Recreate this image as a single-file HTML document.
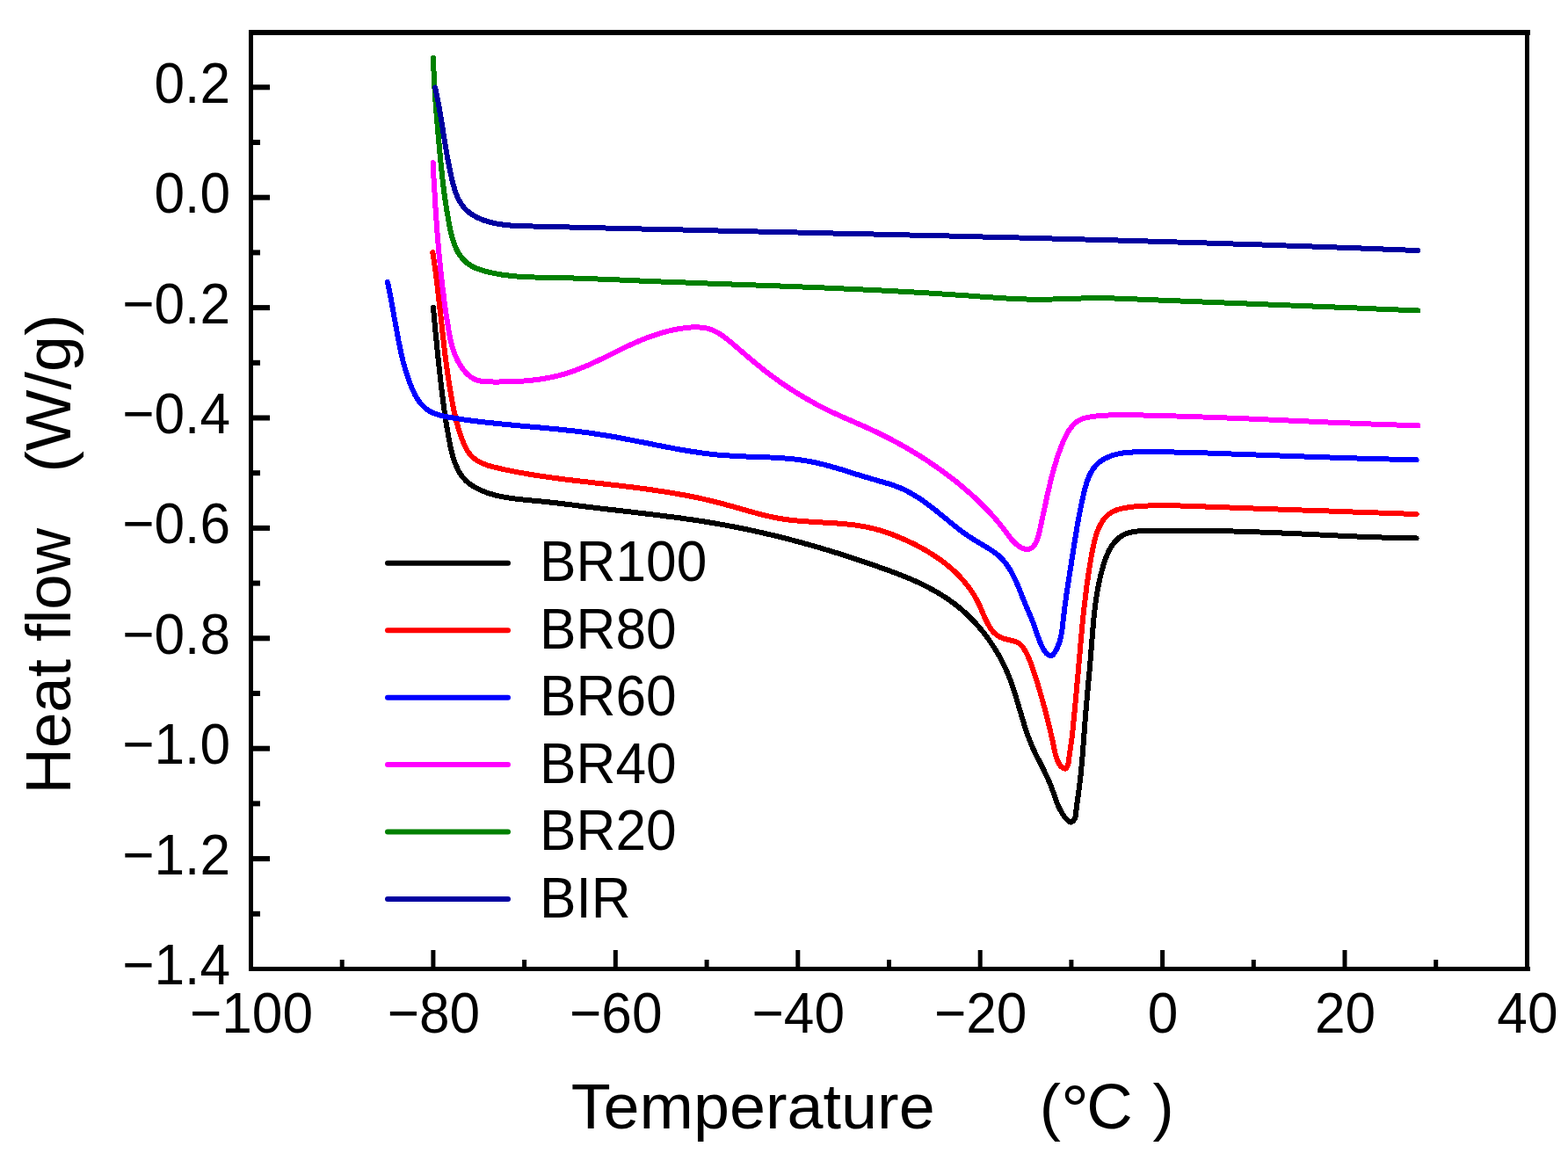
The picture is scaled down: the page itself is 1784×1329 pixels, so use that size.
<!DOCTYPE html>
<html><head><meta charset="utf-8"><title>Heat flow vs Temperature</title>
<style>
html,body{margin:0;padding:0;background:#fff;overflow:hidden;}
svg{display:block;}
text{font-family:"Liberation Sans",Arial,sans-serif;fill:#000;}
</style></head>
<body>
<svg width="1784" height="1329" viewBox="0 0 1784 1329">
<rect width="1784" height="1329" fill="#fff"/>
<g id="curves">
<path d="M493.0,350.0 C493.1,351.2 493.4,354.8 493.6,357.3 C493.8,359.8 494.1,362.3 494.3,364.8 C494.5,367.3 494.8,369.7 495.0,372.2 C495.2,374.7 495.4,377.3 495.7,379.8 C495.9,382.3 496.2,384.8 496.5,387.3 C496.8,389.8 496.9,392.4 497.2,394.9 C497.4,397.4 497.7,400.0 498.0,402.5 C498.3,405.0 498.5,407.6 498.8,410.1 C499.1,412.6 499.3,415.1 499.6,417.6 C499.9,420.1 500.1,422.6 500.4,425.1 C500.7,427.6 500.9,430.1 501.2,432.6 C501.5,435.1 501.8,437.4 502.1,439.9 C502.4,442.3 502.7,444.9 503.0,447.3 C503.3,449.8 503.6,452.2 503.9,454.6 C504.2,457.0 504.5,459.4 504.8,461.9 C505.1,464.3 505.5,466.9 505.9,469.3 C506.2,471.8 506.5,474.1 506.9,476.6 C507.3,479.1 507.7,481.6 508.1,484.1 C508.5,486.6 509.0,489.0 509.4,491.5 C509.8,494.0 510.2,496.6 510.7,499.1 C511.2,501.6 511.7,504.1 512.2,506.7 C512.7,509.2 513.3,511.9 513.9,514.4 C514.5,516.9 515.2,519.4 516.0,521.8 C516.8,524.2 517.6,526.6 518.6,528.9 C519.6,531.2 520.5,533.6 521.7,535.7 C522.9,537.9 524.2,539.9 525.6,541.8 C527.0,543.7 528.6,545.5 530.4,547.2 C532.1,548.9 534.1,550.4 536.1,551.8 C538.1,553.2 540.3,554.4 542.5,555.6 C544.7,556.8 547.1,557.8 549.4,558.8 C551.7,559.8 554.1,560.6 556.5,561.4 C558.9,562.2 561.3,562.9 563.7,563.5 C566.1,564.1 568.5,564.6 571.0,565.1 C573.5,565.6 575.9,566.0 578.4,566.4 C580.9,566.8 583.4,567.2 585.9,567.5 C588.4,567.8 590.9,568.0 593.4,568.3 C595.9,568.6 598.5,568.9 601.0,569.1 C603.5,569.4 606.0,569.6 608.5,569.8 C611.0,570.0 613.5,570.2 616.0,570.5 C618.5,570.8 621.0,571.0 623.5,571.3 C626.0,571.6 628.5,571.8 631.0,572.1 C633.5,572.4 635.9,572.7 638.4,573.0 C640.9,573.3 643.4,573.6 645.9,573.9 C648.4,574.2 650.8,574.5 653.3,574.8 C655.8,575.1 658.2,575.5 660.7,575.8 C663.2,576.1 665.7,576.4 668.2,576.7 C670.7,577.0 673.1,577.3 675.6,577.6 C678.1,577.9 680.6,578.2 683.1,578.5 C685.6,578.8 688.0,579.1 690.5,579.4 C693.0,579.7 695.5,579.9 698.0,580.2 C700.5,580.5 703.0,580.8 705.5,581.1 C708.0,581.4 710.5,581.7 713.0,582.0 C715.5,582.3 717.9,582.5 720.4,582.8 C722.9,583.1 725.4,583.4 727.9,583.7 C730.4,584.0 732.9,584.3 735.4,584.6 C737.9,584.9 740.4,585.2 742.9,585.5 C745.4,585.8 747.9,586.1 750.4,586.4 C752.9,586.7 755.3,587.1 757.8,587.4 C760.3,587.7 762.8,588.0 765.3,588.3 C767.8,588.6 770.3,588.9 772.8,589.3 C775.3,589.6 777.7,590.0 780.2,590.4 C782.7,590.8 785.2,591.0 787.7,591.4 C790.2,591.8 792.6,592.1 795.1,592.5 C797.6,592.9 800.1,593.3 802.6,593.7 C805.1,594.1 807.5,594.5 810.0,594.9 C812.5,595.3 814.9,595.8 817.4,596.2 C819.9,596.6 822.3,597.0 824.8,597.5 C827.3,598.0 829.8,598.4 832.2,598.9 C834.7,599.4 837.0,599.8 839.5,600.3 C842.0,600.8 844.4,601.3 846.9,601.8 C849.4,602.3 851.8,602.8 854.2,603.3 C856.6,603.8 859.0,604.3 861.5,604.9 C864.0,605.5 866.4,606.0 868.9,606.6 C871.4,607.2 873.8,607.7 876.2,608.3 C878.6,608.9 881.0,609.4 883.4,610.0 C885.8,610.6 888.3,611.2 890.7,611.8 C893.1,612.4 895.6,613.1 898.0,613.7 C900.4,614.3 902.8,615.0 905.2,615.6 C907.6,616.2 910.1,616.9 912.5,617.6 C914.9,618.3 917.3,618.9 919.7,619.6 C922.1,620.3 924.5,620.9 926.9,621.6 C929.3,622.3 931.7,623.0 934.1,623.7 C936.5,624.4 938.9,625.2 941.3,625.9 C943.7,626.6 946.1,627.4 948.5,628.1 C950.9,628.8 953.3,629.5 955.7,630.3 C958.1,631.0 960.5,631.8 962.9,632.6 C965.3,633.4 967.6,634.1 970.0,634.9 C972.4,635.7 974.8,636.5 977.2,637.3 C979.6,638.1 981.9,638.9 984.3,639.7 C986.7,640.5 989.1,641.4 991.5,642.2 C993.9,643.0 996.2,643.9 998.6,644.7 C1001.0,645.5 1003.4,646.4 1005.8,647.2 C1008.2,648.1 1010.5,648.9 1012.9,649.8 C1015.2,650.7 1017.5,651.5 1019.9,652.4 C1022.2,653.3 1024.7,654.3 1027.0,655.2 C1029.3,656.1 1031.7,657.0 1034.0,658.0 C1036.3,659.0 1038.6,660.0 1040.9,661.0 C1043.2,662.0 1045.5,663.1 1047.7,664.2 C1050.0,665.3 1052.2,666.4 1054.4,667.5 C1056.6,668.6 1058.8,669.8 1061.0,671.0 C1063.2,672.2 1065.4,673.4 1067.5,674.7 C1069.6,676.0 1071.7,677.3 1073.8,678.6 C1075.9,679.9 1078.0,681.3 1080.0,682.7 C1082.0,684.1 1084.0,685.6 1086.0,687.1 C1088.0,688.6 1089.9,690.2 1091.8,691.8 C1093.7,693.4 1095.7,695.0 1097.5,696.7 C1099.3,698.4 1101.1,700.1 1102.9,701.9 C1104.7,703.6 1106.5,705.4 1108.2,707.2 C1109.9,709.0 1111.7,710.9 1113.3,712.8 C1114.9,714.7 1116.5,716.6 1118.1,718.6 C1119.7,720.6 1121.2,722.6 1122.7,724.6 C1124.2,726.6 1125.7,728.7 1127.1,730.8 C1128.5,732.9 1129.9,735.0 1131.3,737.1 C1132.7,739.2 1133.9,741.4 1135.2,743.6 C1136.5,745.8 1137.7,748.0 1138.9,750.2 C1140.1,752.4 1141.2,754.6 1142.3,756.9 C1143.4,759.2 1144.4,761.5 1145.4,763.8 C1146.4,766.1 1147.4,768.4 1148.3,770.7 C1149.2,773.0 1150.1,775.4 1150.9,777.7 C1151.8,780.1 1152.6,782.4 1153.4,784.8 C1154.2,787.2 1154.9,789.6 1155.6,792.0 C1156.3,794.4 1157.1,796.8 1157.8,799.2 C1158.5,801.6 1159.2,804.0 1159.9,806.4 C1160.6,808.8 1161.3,811.2 1162.0,813.6 C1162.7,816.0 1163.5,818.4 1164.2,820.8 C1164.9,823.2 1165.6,825.5 1166.4,827.9 C1167.2,830.3 1168.0,832.6 1168.8,835.0 C1169.6,837.4 1170.5,839.8 1171.4,842.1 C1172.3,844.4 1173.2,846.7 1174.2,849.0 C1175.2,851.3 1176.2,853.5 1177.3,855.8 C1178.4,858.1 1179.6,860.4 1180.7,862.6 C1181.8,864.9 1183.0,867.0 1184.1,869.3 C1185.2,871.5 1186.4,873.8 1187.5,876.1 C1188.6,878.4 1189.7,880.6 1190.8,882.9 C1191.9,885.2 1192.9,887.5 1193.9,889.8 C1194.9,892.1 1195.8,894.4 1196.7,896.8 C1197.6,899.2 1198.4,901.6 1199.2,904.0 C1200.0,906.4 1200.8,908.8 1201.7,911.1 C1202.6,913.5 1203.5,915.8 1204.6,918.1 C1205.7,920.4 1206.8,922.6 1208.1,924.8 C1209.4,927.0 1210.8,929.3 1212.5,931.1 C1214.2,932.9 1216.3,935.6 1218.1,935.6 C1219.8,935.6 1222.0,933.1 1223.0,931.0 C1224.0,928.9 1223.9,925.6 1224.3,923.0 C1224.7,920.4 1225.0,917.8 1225.3,915.3 C1225.6,912.8 1226.0,910.3 1226.3,907.9 C1226.6,905.5 1227.0,903.2 1227.3,900.8 C1227.6,898.4 1227.9,896.0 1228.2,893.6 C1228.5,891.2 1228.8,888.7 1229.1,886.2 C1229.4,883.7 1229.7,881.3 1229.9,878.8 C1230.2,876.3 1230.4,873.7 1230.6,871.2 C1230.8,868.7 1231.1,866.1 1231.3,863.6 C1231.5,861.1 1231.7,858.5 1231.9,856.0 C1232.1,853.5 1232.3,850.9 1232.5,848.4 C1232.7,845.9 1232.8,843.4 1233.0,840.9 C1233.2,838.4 1233.4,836.0 1233.6,833.5 C1233.8,831.0 1233.9,828.5 1234.1,826.0 C1234.3,823.5 1234.5,821.1 1234.7,818.6 C1234.9,816.1 1235.1,813.7 1235.3,811.2 C1235.5,808.7 1235.7,806.2 1235.9,803.7 C1236.1,801.2 1236.4,798.7 1236.6,796.2 C1236.8,793.7 1237.0,791.2 1237.2,788.7 C1237.4,786.2 1237.7,783.6 1237.9,781.1 C1238.1,778.6 1238.4,776.1 1238.6,773.6 C1238.8,771.1 1239.1,768.6 1239.3,766.1 C1239.5,763.6 1239.8,761.1 1240.0,758.6 C1240.2,756.1 1240.4,753.5 1240.6,751.0 C1240.8,748.5 1241.0,746.0 1241.2,743.5 C1241.4,741.0 1241.6,738.6 1241.8,736.1 C1242.0,733.6 1242.2,731.1 1242.4,728.6 C1242.6,726.1 1242.7,723.7 1242.9,721.2 C1243.1,718.7 1243.4,716.2 1243.6,713.7 C1243.8,711.2 1244.0,708.8 1244.2,706.3 C1244.4,703.8 1244.7,701.4 1245.0,698.9 C1245.3,696.4 1245.5,693.9 1245.8,691.4 C1246.1,688.9 1246.4,686.5 1246.8,684.0 C1247.2,681.5 1247.5,679.1 1247.9,676.6 C1248.3,674.1 1248.7,671.6 1249.2,669.1 C1249.7,666.6 1250.2,664.2 1250.7,661.7 C1251.2,659.2 1251.8,656.7 1252.4,654.2 C1253.0,651.7 1253.7,649.2 1254.4,646.7 C1255.1,644.2 1255.8,641.7 1256.6,639.3 C1257.4,636.9 1258.3,634.4 1259.3,632.1 C1260.3,629.8 1261.2,627.5 1262.4,625.4 C1263.6,623.3 1264.8,621.2 1266.2,619.3 C1267.6,617.4 1269.2,615.7 1270.8,614.1 C1272.4,612.5 1274.2,611.1 1276.1,609.9 C1278.0,608.7 1280.2,607.7 1282.4,606.9 C1284.6,606.1 1287.0,605.5 1289.5,605.1 C1292.0,604.7 1294.6,604.4 1297.2,604.2 C1299.8,604.0 1302.6,603.8 1305.3,603.8 C1308.0,603.8 1310.8,603.9 1313.5,603.9 C1316.2,603.9 1318.9,604.0 1321.5,604.0 C1324.1,604.0 1326.7,604.0 1329.3,604.0 C1331.9,604.0 1334.4,604.0 1336.9,604.0 C1339.4,604.0 1341.8,604.0 1344.3,604.0 C1346.8,604.0 1349.2,603.9 1351.7,603.9 C1354.2,603.9 1356.6,603.9 1359.0,603.9 C1361.4,603.9 1363.8,603.9 1366.3,603.9 C1368.8,603.9 1371.2,604.0 1373.7,604.0 C1376.2,604.0 1378.5,604.0 1381.0,604.0 C1383.5,604.0 1386.0,604.2 1388.5,604.2 C1391.0,604.2 1393.4,604.2 1395.9,604.3 C1398.4,604.3 1400.8,604.4 1403.3,604.5 C1405.8,604.6 1408.3,604.6 1410.8,604.7 C1413.3,604.8 1415.8,604.8 1418.3,604.9 C1420.8,605.0 1423.3,605.1 1425.8,605.2 C1428.3,605.3 1430.8,605.4 1433.3,605.5 C1435.8,605.6 1438.3,605.7 1440.8,605.8 C1443.3,605.9 1445.9,606.0 1448.4,606.1 C1450.9,606.2 1453.4,606.3 1455.9,606.4 C1458.4,606.5 1461.0,606.6 1463.5,606.7 C1466.0,606.8 1468.5,607.0 1471.0,607.1 C1473.5,607.2 1476.1,607.3 1478.6,607.4 C1481.1,607.5 1483.7,607.7 1486.2,607.8 C1488.7,607.9 1491.2,608.1 1493.7,608.2 C1496.2,608.3 1498.8,608.4 1501.3,608.5 C1503.8,608.6 1506.4,608.8 1508.9,608.9 C1511.4,609.0 1514.0,609.2 1516.5,609.3 C1519.0,609.4 1521.5,609.5 1524.0,609.6 C1526.5,609.7 1529.1,609.8 1531.6,609.9 C1534.1,610.0 1536.7,610.2 1539.2,610.3 C1541.7,610.4 1544.2,610.5 1546.7,610.6 C1549.2,610.7 1551.8,610.8 1554.3,610.9 C1556.8,611.0 1559.3,611.1 1561.8,611.2 C1564.3,611.3 1566.8,611.3 1569.3,611.4 C1571.8,611.5 1574.3,611.6 1576.8,611.7 C1579.3,611.8 1581.8,611.8 1584.3,611.9 C1586.8,612.0 1589.3,612.0 1591.8,612.1 C1594.3,612.2 1596.7,612.2 1599.2,612.2 C1601.7,612.2 1604.5,612.3 1606.6,612.3 C1608.7,612.3 1610.8,612.4 1611.6,612.4" fill="none" stroke="#000000" stroke-width="6" stroke-linejoin="round" stroke-linecap="round" shape-rendering="crispEdges"/>
<path d="M492.3,287.0 C492.5,288.2 493.0,291.9 493.4,294.4 C493.8,296.8 494.1,299.2 494.5,301.7 C494.9,304.2 495.2,306.7 495.5,309.2 C495.8,311.7 496.2,314.1 496.5,316.6 C496.8,319.1 497.1,321.6 497.4,324.1 C497.7,326.6 498.0,329.0 498.3,331.5 C498.6,334.0 498.8,336.5 499.1,339.0 C499.4,341.5 499.7,344.1 500.0,346.6 C500.3,349.1 500.5,351.6 500.8,354.1 C501.1,356.6 501.4,359.1 501.7,361.6 C502.0,364.1 502.2,366.6 502.5,369.1 C502.8,371.6 503.0,374.2 503.3,376.7 C503.6,379.2 503.9,381.7 504.2,384.2 C504.5,386.7 504.7,389.2 505.0,391.7 C505.3,394.2 505.6,396.7 505.9,399.2 C506.2,401.7 506.5,404.1 506.8,406.6 C507.1,409.1 507.5,411.6 507.8,414.1 C508.1,416.6 508.5,419.0 508.8,421.5 C509.1,424.0 509.5,426.4 509.9,428.9 C510.3,431.4 510.6,433.9 511.0,436.3 C511.4,438.8 511.8,441.2 512.2,443.6 C512.6,446.0 513.0,448.5 513.4,450.9 C513.8,453.3 514.2,455.8 514.7,458.2 C515.2,460.6 515.6,463.0 516.1,465.4 C516.6,467.8 517.2,470.2 517.7,472.6 C518.2,475.0 518.8,477.4 519.4,479.8 C520.0,482.2 520.7,484.6 521.4,487.0 C522.1,489.4 522.9,491.9 523.8,494.4 C524.6,496.9 525.5,499.4 526.5,501.9 C527.5,504.4 528.6,507.0 529.8,509.4 C531.0,511.8 532.4,514.0 533.9,516.0 C535.4,518.0 537.2,519.8 539.0,521.3 C540.8,522.8 542.8,524.1 544.9,525.3 C547.0,526.5 549.2,527.4 551.5,528.3 C553.8,529.2 556.1,529.9 558.5,530.6 C560.9,531.3 563.4,531.8 565.8,532.4 C568.2,533.0 570.6,533.6 573.1,534.1 C575.6,534.6 578.0,535.1 580.5,535.6 C583.0,536.1 585.4,536.6 587.9,537.1 C590.4,537.6 592.8,538.0 595.3,538.4 C597.8,538.8 600.2,539.3 602.7,539.7 C605.2,540.1 607.6,540.5 610.1,540.9 C612.6,541.3 615.0,541.6 617.5,542.0 C620.0,542.4 622.5,542.8 625.0,543.1 C627.5,543.5 629.9,543.8 632.4,544.1 C634.9,544.4 637.4,544.8 639.9,545.1 C642.4,545.4 644.8,545.7 647.3,546.0 C649.8,546.3 652.3,546.6 654.8,546.9 C657.3,547.2 659.7,547.5 662.2,547.8 C664.7,548.1 667.2,548.3 669.7,548.6 C672.2,548.9 674.7,549.2 677.2,549.5 C679.7,549.8 682.1,550.0 684.6,550.3 C687.1,550.6 689.6,550.9 692.1,551.2 C694.6,551.5 697.1,551.7 699.6,552.0 C702.1,552.3 704.6,552.6 707.1,552.9 C709.6,553.2 712.0,553.5 714.5,553.8 C717.0,554.1 719.5,554.4 722.0,554.7 C724.5,555.0 727.0,555.4 729.5,555.7 C732.0,556.0 734.4,556.4 736.9,556.7 C739.4,557.1 741.9,557.4 744.4,557.8 C746.9,558.2 749.3,558.5 751.8,558.9 C754.3,559.3 756.7,559.6 759.2,560.0 C761.7,560.4 764.2,560.9 766.7,561.3 C769.2,561.7 771.6,562.2 774.1,562.6 C776.6,563.0 779.0,563.4 781.5,563.9 C784.0,564.4 786.3,564.9 788.8,565.4 C791.2,565.9 793.8,566.4 796.2,566.9 C798.7,567.4 801.0,568.0 803.5,568.6 C806.0,569.2 808.5,569.7 810.9,570.3 C813.3,570.9 815.7,571.5 818.1,572.1 C820.5,572.7 823.0,573.4 825.4,574.1 C827.8,574.8 830.3,575.4 832.7,576.1 C835.1,576.8 837.5,577.4 839.9,578.1 C842.3,578.8 844.7,579.5 847.1,580.2 C849.5,580.9 852.0,581.5 854.4,582.2 C856.8,582.9 859.2,583.6 861.6,584.2 C864.0,584.9 866.5,585.5 868.9,586.1 C871.3,586.7 873.8,587.3 876.2,587.8 C878.6,588.3 881.0,588.8 883.5,589.3 C886.0,589.8 888.4,590.2 890.9,590.6 C893.4,591.0 895.9,591.3 898.4,591.6 C900.9,591.9 903.3,592.1 905.8,592.4 C908.3,592.6 910.9,592.9 913.4,593.1 C915.9,593.3 918.4,593.4 920.9,593.6 C923.4,593.8 926.0,594.0 928.5,594.1 C931.0,594.2 933.5,594.4 936.0,594.5 C938.5,594.6 941.1,594.8 943.6,594.9 C946.1,595.0 948.6,595.2 951.1,595.4 C953.6,595.6 956.2,595.8 958.7,596.0 C961.2,596.2 963.6,596.4 966.1,596.7 C968.6,597.0 971.1,597.2 973.6,597.6 C976.1,598.0 978.5,598.4 981.0,598.8 C983.5,599.2 985.9,599.7 988.3,600.2 C990.7,600.7 993.1,601.3 995.5,601.9 C997.9,602.5 1000.3,603.2 1002.7,603.9 C1005.1,604.6 1007.4,605.4 1009.8,606.2 C1012.1,607.0 1014.5,607.9 1016.8,608.8 C1019.1,609.7 1021.4,610.6 1023.7,611.6 C1026.0,612.6 1028.3,613.6 1030.6,614.6 C1032.9,615.6 1035.2,616.7 1037.4,617.8 C1039.7,618.9 1041.9,620.0 1044.1,621.2 C1046.3,622.4 1048.6,623.5 1050.8,624.8 C1053.0,626.0 1055.2,627.4 1057.3,628.7 C1059.4,630.0 1061.5,631.3 1063.6,632.7 C1065.7,634.1 1067.8,635.5 1069.8,636.9 C1071.8,638.3 1073.8,639.8 1075.8,641.4 C1077.8,643.0 1079.7,644.6 1081.6,646.2 C1083.5,647.8 1085.3,649.5 1087.1,651.2 C1088.9,652.9 1090.6,654.7 1092.3,656.5 C1094.0,658.3 1095.7,660.2 1097.3,662.1 C1098.9,664.0 1100.4,665.9 1101.9,667.9 C1103.4,669.9 1104.9,672.0 1106.3,674.1 C1107.7,676.2 1109.0,678.4 1110.2,680.6 C1111.5,682.8 1112.7,685.1 1113.8,687.4 C1114.9,689.7 1115.9,692.2 1116.9,694.6 C1117.9,697.0 1118.9,699.4 1120.0,701.8 C1121.1,704.1 1122.1,706.5 1123.3,708.7 C1124.5,710.9 1125.6,713.0 1127.0,715.0 C1128.4,717.0 1129.8,718.8 1131.5,720.4 C1133.2,722.0 1135.0,723.4 1137.1,724.5 C1139.2,725.6 1141.6,726.5 1144.0,727.2 C1146.4,728.0 1149.2,728.3 1151.7,729.0 C1154.2,729.7 1156.7,730.4 1158.7,731.6 C1160.7,732.8 1162.2,734.6 1163.7,736.4 C1165.2,738.2 1166.3,740.5 1167.5,742.6 C1168.7,744.8 1169.7,747.0 1170.7,749.3 C1171.7,751.6 1172.6,754.1 1173.5,756.5 C1174.4,758.9 1175.2,761.3 1176.0,763.7 C1176.8,766.1 1177.5,768.5 1178.3,770.9 C1179.1,773.3 1179.9,775.7 1180.6,778.1 C1181.3,780.5 1182.0,782.9 1182.7,785.3 C1183.4,787.7 1184.1,790.0 1184.8,792.4 C1185.5,794.8 1186.1,797.2 1186.8,799.6 C1187.5,802.0 1188.1,804.4 1188.8,806.8 C1189.5,809.2 1190.1,811.7 1190.7,814.1 C1191.3,816.5 1191.9,819.0 1192.5,821.4 C1193.1,823.8 1193.7,826.2 1194.3,828.7 C1194.9,831.2 1195.4,833.7 1196.0,836.1 C1196.6,838.5 1197.2,841.0 1197.7,843.4 C1198.2,845.8 1198.7,848.3 1199.2,850.8 C1199.7,853.2 1200.1,855.7 1200.8,858.1 C1201.5,860.5 1202.2,862.9 1203.2,865.2 C1204.2,867.5 1205.3,870.6 1206.9,872.1 C1208.5,873.6 1211.1,875.2 1212.6,874.4 C1214.1,873.6 1215.1,869.9 1215.8,867.5 C1216.5,865.1 1216.3,862.3 1216.6,859.8 C1216.9,857.3 1217.4,854.8 1217.8,852.3 C1218.2,849.8 1218.5,847.3 1218.8,844.9 C1219.1,842.5 1219.5,840.0 1219.8,837.6 C1220.1,835.2 1220.3,832.7 1220.6,830.2 C1220.8,827.8 1221.1,825.4 1221.3,822.9 C1221.5,820.4 1221.8,818.0 1222.0,815.5 C1222.2,813.0 1222.5,810.5 1222.8,808.0 C1223.0,805.5 1223.3,803.0 1223.5,800.5 C1223.7,798.0 1224.0,795.4 1224.2,792.9 C1224.4,790.4 1224.6,787.8 1224.8,785.3 C1225.0,782.8 1225.3,780.2 1225.5,777.7 C1225.7,775.2 1226.0,772.6 1226.2,770.1 C1226.4,767.6 1226.7,765.0 1226.9,762.5 C1227.1,760.0 1227.3,757.4 1227.5,754.9 C1227.7,752.4 1228.0,749.9 1228.2,747.4 C1228.4,744.9 1228.7,742.4 1228.9,739.9 C1229.1,737.4 1229.3,735.0 1229.5,732.5 C1229.7,730.0 1230.0,727.6 1230.2,725.1 C1230.4,722.6 1230.6,720.2 1230.8,717.8 C1231.0,715.3 1231.3,712.8 1231.5,710.4 C1231.7,708.0 1232.0,705.5 1232.2,703.1 C1232.5,700.7 1232.7,698.2 1233.0,695.8 C1233.3,693.4 1233.5,691.0 1233.8,688.5 C1234.1,686.0 1234.4,683.6 1234.7,681.1 C1235.0,678.6 1235.3,676.2 1235.6,673.7 C1235.9,671.2 1236.2,668.8 1236.5,666.3 C1236.8,663.8 1237.2,661.3 1237.6,658.8 C1238.0,656.3 1238.3,653.8 1238.7,651.3 C1239.1,648.8 1239.5,646.2 1239.9,643.7 C1240.3,641.2 1240.8,638.6 1241.2,636.0 C1241.7,633.4 1242.1,630.8 1242.6,628.2 C1243.1,625.6 1243.6,623.0 1244.2,620.4 C1244.8,617.8 1245.3,615.2 1246.0,612.7 C1246.7,610.2 1247.4,607.8 1248.3,605.4 C1249.2,603.0 1250.1,600.8 1251.2,598.6 C1252.3,596.5 1253.4,594.4 1254.7,592.5 C1256.0,590.6 1257.5,588.8 1259.1,587.3 C1260.7,585.8 1262.5,584.4 1264.4,583.2 C1266.4,582.0 1268.5,581.0 1270.8,580.2 C1273.0,579.4 1275.5,578.8 1277.9,578.3 C1280.4,577.8 1282.9,577.4 1285.5,577.0 C1288.1,576.6 1290.8,576.4 1293.4,576.2 C1296.0,576.0 1298.5,575.8 1301.1,575.7 C1303.7,575.6 1306.2,575.5 1308.8,575.4 C1311.4,575.3 1314.0,575.2 1316.5,575.2 C1319.0,575.2 1321.5,575.2 1324.0,575.2 C1326.5,575.2 1329.0,575.3 1331.5,575.3 C1334.0,575.3 1336.5,575.3 1339.0,575.4 C1341.5,575.5 1343.9,575.5 1346.4,575.6 C1348.9,575.7 1351.3,575.8 1353.8,575.9 C1356.3,576.0 1358.8,576.1 1361.3,576.2 C1363.8,576.3 1366.2,576.3 1368.7,576.4 C1371.2,576.5 1373.7,576.6 1376.2,576.7 C1378.7,576.8 1381.1,576.9 1383.6,577.0 C1386.1,577.1 1388.6,577.1 1391.1,577.2 C1393.6,577.3 1396.1,577.4 1398.6,577.5 C1401.1,577.6 1403.6,577.7 1406.1,577.8 C1408.6,577.9 1411.1,577.9 1413.6,578.0 C1416.1,578.1 1418.6,578.2 1421.1,578.3 C1423.6,578.4 1426.1,578.5 1428.6,578.6 C1431.1,578.7 1433.6,578.8 1436.1,578.9 C1438.6,579.0 1441.1,579.0 1443.6,579.1 C1446.1,579.2 1448.7,579.3 1451.2,579.4 C1453.7,579.5 1456.2,579.6 1458.7,579.7 C1461.2,579.8 1463.7,579.8 1466.2,579.9 C1468.7,580.0 1471.3,580.1 1473.8,580.2 C1476.3,580.3 1478.8,580.4 1481.3,580.5 C1483.8,580.6 1486.3,580.6 1488.8,580.7 C1491.3,580.8 1493.9,580.9 1496.4,581.0 C1498.9,581.1 1501.4,581.2 1503.9,581.3 C1506.4,581.4 1509.0,581.4 1511.5,581.5 C1514.0,581.6 1516.5,581.7 1519.0,581.8 C1521.5,581.9 1524.0,582.0 1526.5,582.1 C1529.0,582.2 1531.6,582.2 1534.1,582.3 C1536.6,582.4 1539.1,582.5 1541.6,582.6 C1544.1,582.7 1546.6,582.8 1549.1,582.9 C1551.6,583.0 1554.1,583.0 1556.6,583.1 C1559.1,583.2 1561.7,583.3 1564.2,583.4 C1566.7,583.5 1569.2,583.5 1571.7,583.6 C1574.2,583.7 1576.7,583.8 1579.2,583.9 C1581.7,584.0 1584.2,584.1 1586.7,584.2 C1589.2,584.3 1591.7,584.3 1594.2,584.4 C1596.7,584.5 1599.1,584.6 1601.6,584.7 C1604.1,584.8 1607.4,584.9 1609.1,584.9 C1610.8,584.9 1611.2,585.0 1611.6,585.0" fill="none" stroke="#ff0000" stroke-width="6" stroke-linejoin="round" stroke-linecap="round" shape-rendering="crispEdges"/>
<path d="M441.0,321.0 C441.2,322.2 442.0,325.8 442.5,328.2 C443.0,330.6 443.4,333.1 443.9,335.5 C444.4,337.9 444.8,340.4 445.3,342.9 C445.8,345.4 446.2,347.9 446.7,350.4 C447.1,352.9 447.6,355.5 448.0,358.0 C448.4,360.5 448.9,363.0 449.4,365.5 C449.9,368.0 450.4,370.5 450.8,373.0 C451.2,375.5 451.7,378.0 452.1,380.5 C452.6,383.0 453.0,385.4 453.5,387.8 C454.0,390.2 454.5,392.6 455.0,395.0 C455.5,397.4 456.0,399.8 456.5,402.2 C457.0,404.6 457.5,406.9 458.1,409.3 C458.7,411.7 459.3,413.9 460.0,416.3 C460.7,418.7 461.4,421.1 462.1,423.5 C462.9,425.9 463.6,428.3 464.5,430.7 C465.4,433.1 466.2,435.6 467.2,438.1 C468.2,440.6 469.2,443.1 470.4,445.5 C471.5,447.9 472.8,450.4 474.1,452.6 C475.5,454.8 476.9,457.0 478.5,458.9 C480.1,460.8 481.8,462.6 483.6,464.2 C485.5,465.8 487.5,467.1 489.6,468.3 C491.7,469.5 493.8,470.4 496.1,471.2 C498.4,472.0 500.8,472.6 503.2,473.2 C505.6,473.8 508.1,474.2 510.6,474.7 C513.1,475.1 515.6,475.5 518.1,475.9 C520.6,476.3 523.1,476.7 525.6,477.1 C528.1,477.5 530.6,477.9 533.1,478.2 C535.6,478.5 538.1,478.8 540.6,479.1 C543.1,479.4 545.6,479.8 548.1,480.1 C550.6,480.4 553.1,480.6 555.6,480.9 C558.1,481.2 560.6,481.4 563.1,481.7 C565.6,482.0 568.1,482.2 570.6,482.5 C573.1,482.8 575.6,483.0 578.1,483.2 C580.6,483.4 583.1,483.7 585.6,483.9 C588.1,484.1 590.6,484.4 593.1,484.6 C595.6,484.8 598.0,485.1 600.5,485.3 C603.0,485.5 605.5,485.7 608.0,485.9 C610.5,486.1 613.0,486.4 615.5,486.6 C618.0,486.8 620.5,487.1 623.0,487.3 C625.5,487.5 628.0,487.8 630.5,488.0 C633.0,488.2 635.5,488.5 638.0,488.8 C640.5,489.1 642.9,489.3 645.4,489.6 C647.9,489.9 650.4,490.1 652.9,490.4 C655.4,490.7 657.8,491.0 660.3,491.3 C662.8,491.6 665.3,491.9 667.8,492.2 C670.3,492.5 672.7,492.9 675.2,493.3 C677.7,493.7 680.1,494.0 682.6,494.4 C685.1,494.8 687.5,495.2 690.0,495.6 C692.5,496.0 694.9,496.4 697.4,496.8 C699.9,497.2 702.3,497.7 704.8,498.2 C707.3,498.7 709.7,499.1 712.2,499.6 C714.7,500.1 717.1,500.5 719.6,501.0 C722.1,501.5 724.5,502.0 727.0,502.5 C729.5,503.0 731.9,503.4 734.4,503.9 C736.9,504.4 739.3,504.9 741.8,505.4 C744.2,505.9 746.6,506.4 749.1,506.9 C751.6,507.4 754.0,507.8 756.5,508.3 C759.0,508.8 761.4,509.2 763.9,509.7 C766.4,510.2 768.8,510.7 771.3,511.1 C773.8,511.6 776.2,512.0 778.7,512.4 C781.2,512.8 783.7,513.2 786.2,513.6 C788.7,514.0 791.1,514.3 793.6,514.7 C796.1,515.1 798.5,515.5 801.0,515.8 C803.5,516.1 806.0,516.4 808.5,516.7 C811.0,517.0 813.5,517.3 816.0,517.5 C818.5,517.7 821.0,517.9 823.5,518.1 C826.0,518.3 828.5,518.4 831.0,518.6 C833.5,518.8 836.1,519.0 838.6,519.1 C841.1,519.2 843.6,519.3 846.1,519.4 C848.6,519.5 851.1,519.6 853.6,519.7 C856.1,519.8 858.7,519.8 861.2,519.9 C863.7,520.0 866.2,520.1 868.7,520.2 C871.2,520.3 873.8,520.4 876.3,520.5 C878.8,520.6 881.3,520.8 883.8,520.9 C886.3,521.0 888.8,521.2 891.3,521.4 C893.8,521.6 896.3,521.8 898.8,522.0 C901.3,522.2 903.7,522.5 906.2,522.8 C908.7,523.1 911.1,523.4 913.6,523.8 C916.1,524.2 918.5,524.5 921.0,525.0 C923.5,525.5 925.9,526.0 928.4,526.5 C930.9,527.0 933.3,527.6 935.7,528.2 C938.1,528.8 940.5,529.4 942.9,530.1 C945.3,530.8 947.8,531.5 950.2,532.2 C952.6,532.9 955.0,533.6 957.4,534.3 C959.8,535.0 962.2,535.8 964.6,536.6 C967.0,537.4 969.5,538.1 971.9,538.9 C974.3,539.6 976.7,540.4 979.1,541.1 C981.5,541.8 984.0,542.6 986.4,543.3 C988.8,544.0 991.2,544.7 993.6,545.4 C996.0,546.1 998.5,546.8 1000.9,547.5 C1003.3,548.2 1005.8,548.9 1008.2,549.6 C1010.6,550.3 1012.9,551.1 1015.3,551.9 C1017.6,552.7 1020.0,553.5 1022.3,554.4 C1024.6,555.3 1027.0,556.3 1029.2,557.4 C1031.5,558.5 1033.6,559.7 1035.8,560.9 C1038.0,562.1 1040.2,563.4 1042.3,564.7 C1044.4,566.0 1046.5,567.4 1048.6,568.8 C1050.7,570.2 1052.7,571.7 1054.7,573.2 C1056.7,574.7 1058.8,576.2 1060.8,577.8 C1062.8,579.3 1064.7,580.9 1066.7,582.5 C1068.7,584.1 1070.6,585.7 1072.6,587.3 C1074.5,588.9 1076.5,590.4 1078.4,592.0 C1080.3,593.6 1082.3,595.2 1084.2,596.8 C1086.1,598.4 1088.0,599.9 1090.0,601.4 C1092.0,602.9 1094.0,604.4 1096.0,605.9 C1098.0,607.4 1100.0,608.8 1102.1,610.2 C1104.2,611.6 1106.3,612.9 1108.4,614.2 C1110.5,615.5 1112.7,616.8 1114.9,618.1 C1117.1,619.4 1119.2,620.7 1121.4,622.0 C1123.6,623.3 1125.7,624.6 1127.8,626.0 C1129.9,627.4 1131.9,628.8 1133.8,630.3 C1135.7,631.8 1137.6,633.5 1139.3,635.2 C1141.0,637.0 1142.6,638.8 1144.1,640.8 C1145.6,642.8 1147.0,644.8 1148.3,646.9 C1149.6,649.0 1150.9,651.2 1152.1,653.4 C1153.3,655.6 1154.3,658.0 1155.4,660.3 C1156.5,662.6 1157.5,665.0 1158.5,667.4 C1159.5,669.8 1160.5,672.2 1161.4,674.6 C1162.4,677.0 1163.2,679.4 1164.2,681.7 C1165.2,684.1 1166.1,686.4 1167.1,688.7 C1168.1,691.0 1169.0,693.3 1170.0,695.6 C1171.0,697.9 1172.0,700.0 1172.9,702.3 C1173.9,704.5 1174.8,706.8 1175.7,709.1 C1176.6,711.4 1177.3,713.7 1178.1,716.0 C1178.9,718.3 1179.7,720.7 1180.5,723.1 C1181.3,725.5 1182.2,727.9 1183.2,730.3 C1184.2,732.7 1185.2,735.1 1186.5,737.4 C1187.8,739.7 1189.5,742.7 1191.3,744.1 C1193.0,745.5 1195.3,746.5 1197.0,745.8 C1198.7,745.1 1200.3,742.0 1201.6,739.7 C1202.9,737.4 1204.0,734.6 1204.9,732.1 C1205.8,729.6 1206.4,727.2 1207.0,724.7 C1207.6,722.2 1207.9,719.8 1208.3,717.4 C1208.7,715.0 1208.9,712.5 1209.2,710.1 C1209.5,707.7 1209.7,705.2 1210.0,702.7 C1210.3,700.2 1210.6,697.8 1210.9,695.3 C1211.2,692.8 1211.5,690.4 1211.8,687.9 C1212.1,685.4 1212.6,682.9 1212.9,680.4 C1213.2,677.9 1213.5,675.4 1213.9,672.9 C1214.3,670.4 1214.7,667.9 1215.1,665.4 C1215.5,662.9 1215.8,660.4 1216.2,657.9 C1216.6,655.4 1217.0,652.9 1217.4,650.4 C1217.8,647.9 1218.2,645.4 1218.6,642.9 C1219.0,640.4 1219.3,638.0 1219.7,635.5 C1220.1,633.0 1220.5,630.6 1220.9,628.1 C1221.3,625.6 1221.6,623.2 1222.0,620.7 C1222.4,618.2 1222.8,615.8 1223.2,613.4 C1223.6,611.0 1224.0,608.5 1224.4,606.1 C1224.8,603.7 1225.2,601.2 1225.6,598.7 C1226.0,596.2 1226.5,593.8 1226.9,591.3 C1227.4,588.8 1227.8,586.5 1228.3,584.0 C1228.8,581.5 1229.3,579.0 1229.8,576.5 C1230.3,574.0 1230.9,571.5 1231.4,569.0 C1232.0,566.5 1232.5,564.0 1233.1,561.5 C1233.7,559.0 1234.3,556.4 1235.0,553.9 C1235.7,551.4 1236.4,549.0 1237.3,546.6 C1238.2,544.2 1239.1,541.8 1240.2,539.6 C1241.3,537.4 1242.5,535.3 1243.9,533.3 C1245.3,531.3 1246.8,529.5 1248.6,527.8 C1250.4,526.1 1252.4,524.6 1254.5,523.3 C1256.6,522.0 1258.9,520.9 1261.2,519.9 C1263.5,518.9 1265.9,518.1 1268.3,517.4 C1270.7,516.7 1273.1,516.2 1275.6,515.8 C1278.1,515.4 1280.6,515.1 1283.1,514.9 C1285.6,514.7 1288.1,514.5 1290.6,514.4 C1293.1,514.3 1295.7,514.3 1298.2,514.3 C1300.7,514.3 1303.3,514.3 1305.8,514.3 C1308.3,514.3 1310.8,514.3 1313.3,514.3 C1315.8,514.3 1318.4,514.3 1320.9,514.3 C1323.4,514.3 1325.9,514.4 1328.4,514.4 C1330.9,514.4 1333.5,514.5 1336.0,514.5 C1338.5,514.5 1341.0,514.6 1343.5,514.7 C1346.0,514.8 1348.5,514.8 1351.0,514.9 C1353.5,515.0 1356.0,515.0 1358.5,515.1 C1361.0,515.2 1363.5,515.2 1366.0,515.3 C1368.5,515.4 1371.0,515.4 1373.5,515.5 C1376.0,515.6 1378.5,515.7 1381.0,515.8 C1383.5,515.9 1386.0,515.9 1388.5,516.0 C1391.0,516.1 1393.5,516.2 1396.0,516.3 C1398.5,516.4 1401.0,516.5 1403.5,516.6 C1406.0,516.7 1408.5,516.8 1411.0,516.9 C1413.5,517.0 1416.1,517.0 1418.6,517.1 C1421.1,517.2 1423.6,517.3 1426.1,517.4 C1428.6,517.5 1431.1,517.6 1433.6,517.7 C1436.1,517.8 1438.6,517.9 1441.1,518.0 C1443.6,518.1 1446.1,518.1 1448.6,518.2 C1451.1,518.3 1453.6,518.4 1456.1,518.5 C1458.6,518.6 1461.2,518.7 1463.7,518.8 C1466.2,518.9 1468.7,519.0 1471.2,519.1 C1473.7,519.2 1476.2,519.2 1478.7,519.3 C1481.2,519.4 1483.7,519.5 1486.2,519.6 C1488.7,519.7 1491.3,519.8 1493.8,519.9 C1496.3,520.0 1498.8,520.0 1501.3,520.1 C1503.8,520.2 1506.3,520.3 1508.8,520.4 C1511.3,520.5 1513.8,520.5 1516.3,520.6 C1518.8,520.7 1521.4,520.8 1523.9,520.9 C1526.4,521.0 1528.9,521.0 1531.4,521.1 C1533.9,521.2 1536.4,521.2 1538.9,521.3 C1541.4,521.4 1543.9,521.5 1546.4,521.6 C1548.9,521.7 1551.5,521.7 1554.0,521.8 C1556.5,521.9 1559.0,521.9 1561.5,522.0 C1564.0,522.1 1566.5,522.1 1569.0,522.2 C1571.5,522.3 1574.0,522.3 1576.5,522.4 C1579.0,522.5 1581.5,522.5 1584.0,522.6 C1586.5,522.7 1589.1,522.8 1591.6,522.8 C1594.1,522.8 1596.6,522.8 1599.1,522.9 C1601.6,523.0 1604.5,523.0 1606.6,523.1 C1608.7,523.2 1610.8,523.2 1611.6,523.2" fill="none" stroke="#0000ff" stroke-width="6" stroke-linejoin="round" stroke-linecap="round" shape-rendering="crispEdges"/>
<path d="M492.6,185.0 C492.7,186.3 492.9,190.1 493.0,192.6 C493.1,195.1 493.3,197.6 493.4,200.1 C493.5,202.6 493.6,205.1 493.8,207.6 C494.0,210.1 494.2,212.6 494.3,215.1 C494.4,217.6 494.6,220.2 494.7,222.7 C494.8,225.2 495.0,227.6 495.1,230.1 C495.2,232.6 495.4,235.1 495.6,237.6 C495.8,240.1 495.9,242.6 496.1,245.1 C496.3,247.6 496.4,250.1 496.6,252.6 C496.8,255.1 497.0,257.5 497.2,260.0 C497.4,262.5 497.5,265.0 497.7,267.5 C497.9,270.0 498.1,272.4 498.3,274.9 C498.5,277.4 498.8,279.9 499.0,282.4 C499.2,284.9 499.4,287.3 499.6,289.8 C499.8,292.3 500.1,294.8 500.3,297.3 C500.6,299.8 500.9,302.2 501.1,304.7 C501.4,307.2 501.5,309.7 501.8,312.2 C502.1,314.7 502.4,317.2 502.7,319.7 C503.0,322.2 503.2,324.6 503.5,327.1 C503.8,329.6 504.2,332.1 504.5,334.6 C504.8,337.1 505.1,339.6 505.4,342.1 C505.7,344.6 506.0,347.1 506.4,349.6 C506.8,352.1 507.1,354.6 507.5,357.1 C507.9,359.6 508.3,362.1 508.7,364.6 C509.1,367.1 509.5,369.6 509.9,372.1 C510.3,374.6 510.7,377.1 511.2,379.6 C511.7,382.1 512.2,384.6 512.7,387.1 C513.2,389.6 513.8,392.0 514.5,394.4 C515.2,396.8 515.9,399.1 516.8,401.4 C517.7,403.7 518.7,406.1 519.7,408.3 C520.8,410.5 521.8,412.6 523.1,414.7 C524.4,416.8 525.8,418.9 527.4,420.8 C529.0,422.8 530.6,424.7 532.5,426.4 C534.4,428.1 536.4,429.6 538.5,430.8 C540.6,432.0 543.0,432.7 545.4,433.3 C547.8,433.9 550.3,434.1 552.9,434.3 C555.5,434.5 558.1,434.5 560.7,434.5 C563.3,434.5 565.9,434.5 568.4,434.5 C570.9,434.5 573.5,434.4 576.0,434.4 C578.5,434.3 581.0,434.3 583.5,434.2 C586.0,434.1 588.5,434.0 591.0,433.9 C593.5,433.8 595.9,433.5 598.4,433.3 C600.9,433.1 603.3,432.9 605.8,432.6 C608.3,432.3 610.7,432.1 613.2,431.7 C615.7,431.3 618.1,430.9 620.6,430.5 C623.1,430.1 625.5,429.6 628.0,429.1 C630.5,428.6 632.9,428.0 635.4,427.4 C637.9,426.8 640.3,426.1 642.7,425.4 C645.1,424.7 647.4,423.9 649.8,423.1 C652.2,422.3 654.5,421.4 656.9,420.5 C659.2,419.6 661.6,418.6 663.9,417.7 C666.2,416.8 668.5,415.8 670.8,414.8 C673.1,413.8 675.3,412.7 677.6,411.6 C679.9,410.5 682.2,409.5 684.5,408.4 C686.8,407.3 689.0,406.2 691.2,405.1 C693.5,404.0 695.8,402.8 698.0,401.7 C700.2,400.6 702.5,399.5 704.7,398.4 C707.0,397.3 709.2,396.2 711.5,395.1 C713.8,394.0 716.0,392.9 718.3,391.9 C720.6,390.9 722.8,389.9 725.1,388.9 C727.4,387.9 729.6,386.9 731.9,386.0 C734.2,385.1 736.6,384.2 738.9,383.3 C741.2,382.4 743.5,381.7 745.9,380.9 C748.2,380.1 750.6,379.4 753.0,378.7 C755.4,378.0 757.8,377.3 760.2,376.7 C762.6,376.1 765.0,375.6 767.5,375.1 C770.0,374.6 772.5,374.2 775.0,373.8 C777.5,373.4 780.1,373.1 782.7,372.8 C785.3,372.6 787.9,372.3 790.4,372.3 C792.9,372.3 795.5,372.4 798.0,372.6 C800.5,372.9 802.9,373.2 805.3,373.8 C807.7,374.4 810.0,375.3 812.2,376.3 C814.4,377.3 816.5,378.5 818.6,379.8 C820.7,381.1 822.7,382.6 824.7,384.1 C826.7,385.6 828.7,387.1 830.7,388.7 C832.7,390.3 834.6,392.0 836.5,393.6 C838.4,395.2 840.3,396.9 842.2,398.5 C844.1,400.1 846.0,401.8 847.9,403.4 C849.8,405.0 851.8,406.7 853.7,408.3 C855.6,409.9 857.5,411.5 859.4,413.1 C861.3,414.7 863.2,416.2 865.2,417.8 C867.2,419.4 869.1,421.0 871.1,422.5 C873.1,424.0 875.1,425.5 877.1,427.0 C879.1,428.5 881.1,429.9 883.1,431.4 C885.1,432.9 887.2,434.4 889.3,435.8 C891.4,437.2 893.4,438.6 895.5,440.0 C897.6,441.4 899.7,442.8 901.8,444.1 C903.9,445.5 906.1,446.8 908.2,448.1 C910.3,449.4 912.5,450.7 914.6,452.0 C916.8,453.3 918.9,454.5 921.1,455.7 C923.3,456.9 925.5,458.2 927.7,459.4 C929.9,460.6 932.1,461.8 934.3,462.9 C936.5,464.0 938.8,465.2 941.0,466.3 C943.2,467.4 945.5,468.4 947.8,469.5 C950.1,470.6 952.3,471.6 954.6,472.6 C956.9,473.6 959.2,474.7 961.5,475.7 C963.8,476.7 966.1,477.7 968.4,478.7 C970.7,479.7 972.9,480.7 975.2,481.7 C977.5,482.7 979.8,483.7 982.1,484.7 C984.4,485.7 986.7,486.8 989.0,487.8 C991.3,488.9 993.5,489.9 995.8,491.0 C998.0,492.1 1000.3,493.2 1002.5,494.3 C1004.7,495.4 1007.0,496.5 1009.2,497.6 C1011.4,498.7 1013.7,499.9 1015.9,501.1 C1018.1,502.3 1020.3,503.5 1022.5,504.7 C1024.7,505.9 1026.9,507.1 1029.1,508.3 C1031.3,509.5 1033.4,510.8 1035.6,512.1 C1037.8,513.4 1039.9,514.7 1042.0,516.0 C1044.1,517.3 1046.3,518.6 1048.4,519.9 C1050.5,521.2 1052.6,522.6 1054.7,524.0 C1056.8,525.4 1058.8,526.8 1060.9,528.2 C1063.0,529.6 1065.0,531.1 1067.1,532.5 C1069.1,533.9 1071.2,535.3 1073.2,536.8 C1075.2,538.3 1077.2,539.8 1079.2,541.3 C1081.2,542.8 1083.2,544.3 1085.2,545.9 C1087.2,547.5 1089.1,549.0 1091.1,550.6 C1093.0,552.2 1095.0,553.9 1096.9,555.5 C1098.8,557.1 1100.7,558.8 1102.6,560.4 C1104.5,562.0 1106.3,563.7 1108.2,565.4 C1110.1,567.1 1111.9,568.9 1113.7,570.6 C1115.5,572.4 1117.3,574.1 1119.1,575.9 C1120.9,577.7 1122.6,579.4 1124.3,581.2 C1126.0,583.0 1127.7,584.9 1129.4,586.8 C1131.1,588.7 1132.7,590.5 1134.3,592.4 C1135.9,594.3 1137.5,596.2 1139.0,598.2 C1140.5,600.2 1142.0,602.1 1143.5,604.1 C1145.0,606.1 1146.4,608.0 1147.9,610.0 C1149.4,612.0 1150.9,614.0 1152.7,615.8 C1154.5,617.6 1156.4,619.5 1158.6,621.0 C1160.8,622.5 1163.3,624.2 1165.6,624.7 C1167.9,625.2 1170.5,625.2 1172.5,624.3 C1174.5,623.4 1176.3,621.2 1177.7,619.2 C1179.1,617.2 1179.9,614.4 1180.7,612.0 C1181.5,609.6 1182.1,607.1 1182.7,604.6 C1183.3,602.1 1183.8,599.7 1184.3,597.3 C1184.8,594.9 1185.4,592.5 1185.9,590.0 C1186.4,587.5 1187.0,585.1 1187.5,582.6 C1188.0,580.1 1188.6,577.8 1189.1,575.3 C1189.6,572.8 1190.1,570.3 1190.6,567.9 C1191.1,565.5 1191.7,563.0 1192.3,560.6 C1192.9,558.2 1193.4,555.7 1194.0,553.3 C1194.6,550.9 1195.1,548.4 1195.7,546.0 C1196.3,543.6 1196.9,541.2 1197.6,538.8 C1198.2,536.4 1198.9,534.0 1199.6,531.6 C1200.3,529.2 1201.0,526.9 1201.7,524.5 C1202.4,522.1 1203.2,519.7 1204.0,517.3 C1204.8,514.9 1205.7,512.6 1206.6,510.2 C1207.5,507.8 1208.4,505.5 1209.4,503.1 C1210.4,500.8 1211.4,498.4 1212.6,496.1 C1213.8,493.8 1215.0,491.6 1216.4,489.5 C1217.8,487.4 1219.2,485.4 1220.9,483.7 C1222.6,481.9 1224.5,480.3 1226.5,479.0 C1228.5,477.7 1230.8,476.8 1233.1,476.0 C1235.4,475.2 1237.9,474.8 1240.4,474.4 C1242.9,474.0 1245.4,473.7 1247.9,473.4 C1250.4,473.1 1253.0,473.0 1255.5,472.8 C1258.0,472.6 1260.6,472.5 1263.1,472.4 C1265.6,472.3 1268.1,472.3 1270.6,472.3 C1273.1,472.3 1275.7,472.2 1278.2,472.2 C1280.7,472.2 1283.2,472.3 1285.7,472.3 C1288.2,472.3 1290.7,472.4 1293.2,472.4 C1295.7,472.4 1298.2,472.4 1300.7,472.5 C1303.2,472.6 1305.7,472.6 1308.2,472.7 C1310.7,472.8 1313.2,472.8 1315.7,472.9 C1318.2,473.0 1320.7,473.0 1323.2,473.1 C1325.7,473.2 1328.2,473.2 1330.7,473.3 C1333.2,473.4 1335.7,473.4 1338.2,473.5 C1340.7,473.6 1343.2,473.6 1345.7,473.7 C1348.2,473.8 1350.7,473.9 1353.2,474.0 C1355.7,474.1 1358.2,474.1 1360.7,474.2 C1363.2,474.3 1365.7,474.4 1368.2,474.5 C1370.7,474.6 1373.2,474.6 1375.7,474.7 C1378.2,474.8 1380.7,474.9 1383.2,475.0 C1385.7,475.1 1388.2,475.2 1390.7,475.3 C1393.2,475.4 1395.7,475.5 1398.2,475.6 C1400.7,475.7 1403.2,475.8 1405.7,475.9 C1408.2,476.0 1410.7,476.1 1413.2,476.2 C1415.7,476.3 1418.2,476.4 1420.7,476.5 C1423.2,476.6 1425.8,476.8 1428.3,476.9 C1430.8,477.0 1433.3,477.1 1435.8,477.2 C1438.3,477.3 1440.8,477.4 1443.3,477.5 C1445.8,477.6 1448.3,477.7 1450.8,477.8 C1453.3,477.9 1455.8,478.1 1458.3,478.2 C1460.8,478.3 1463.3,478.4 1465.8,478.5 C1468.3,478.6 1470.8,478.7 1473.3,478.8 C1475.8,478.9 1478.3,479.1 1480.8,479.2 C1483.3,479.3 1485.9,479.4 1488.4,479.5 C1490.9,479.6 1493.4,479.7 1495.9,479.8 C1498.4,479.9 1500.9,480.1 1503.4,480.2 C1505.9,480.3 1508.4,480.4 1510.9,480.5 C1513.4,480.6 1515.9,480.7 1518.4,480.8 C1520.9,480.9 1523.4,481.0 1525.9,481.1 C1528.4,481.2 1530.9,481.3 1533.4,481.4 C1535.9,481.5 1538.4,481.7 1540.9,481.8 C1543.4,481.9 1545.9,482.0 1548.4,482.1 C1550.9,482.2 1553.4,482.3 1555.9,482.4 C1558.4,482.5 1561.0,482.5 1563.5,482.6 C1566.0,482.7 1568.5,482.8 1571.0,482.9 C1573.5,483.0 1576.0,483.1 1578.5,483.2 C1581.0,483.3 1583.5,483.3 1586.0,483.4 C1588.5,483.5 1591.0,483.6 1593.5,483.7 C1596.0,483.8 1598.5,483.8 1601.0,483.9 C1603.5,484.0 1606.4,484.1 1608.5,484.2 C1610.6,484.3 1612.7,484.3 1613.5,484.3" fill="none" stroke="#ff00ff" stroke-width="6" stroke-linejoin="round" stroke-linecap="round" shape-rendering="crispEdges"/>
<path d="M493.2,66.0 C493.2,67.2 493.2,71.0 493.3,73.5 C493.4,76.0 493.4,78.5 493.5,81.0 C493.6,83.5 493.8,86.0 493.9,88.5 C494.0,91.0 494.1,93.5 494.2,96.0 C494.3,98.5 494.5,101.0 494.7,103.5 C494.9,106.0 495.0,108.5 495.2,111.0 C495.4,113.5 495.5,116.0 495.7,118.5 C495.9,121.0 496.1,123.6 496.3,126.1 C496.5,128.6 496.7,131.1 496.9,133.6 C497.1,136.1 497.3,138.6 497.5,141.1 C497.7,143.6 498.0,146.1 498.2,148.6 C498.4,151.1 498.6,153.5 498.8,156.0 C499.0,158.5 499.3,161.0 499.5,163.5 C499.7,166.0 500.0,168.5 500.2,171.0 C500.4,173.5 500.7,176.0 500.9,178.5 C501.1,181.0 501.4,183.4 501.6,185.9 C501.9,188.4 502.1,190.9 502.4,193.4 C502.7,195.9 502.9,198.3 503.2,200.8 C503.5,203.3 503.7,205.8 504.0,208.3 C504.3,210.8 504.6,213.2 504.9,215.7 C505.2,218.2 505.5,220.7 505.9,223.2 C506.2,225.7 506.6,228.1 507.0,230.6 C507.4,233.1 507.7,235.6 508.1,238.1 C508.5,240.6 509.0,243.0 509.4,245.5 C509.8,248.0 510.2,250.5 510.7,253.0 C511.1,255.5 511.6,258.0 512.1,260.5 C512.6,263.0 513.2,265.5 513.8,267.9 C514.4,270.3 515.1,272.8 515.9,275.1 C516.7,277.5 517.6,279.8 518.6,282.0 C519.6,284.2 520.7,286.5 522.0,288.6 C523.3,290.7 524.8,292.6 526.5,294.5 C528.2,296.4 530.0,298.2 532.0,299.7 C534.0,301.2 536.1,302.6 538.3,303.7 C540.5,304.8 542.9,305.7 545.2,306.5 C547.6,307.3 550.0,308.1 552.4,308.7 C554.8,309.3 557.2,309.9 559.6,310.4 C562.0,310.9 564.5,311.5 566.9,311.9 C569.3,312.3 571.8,312.7 574.3,313.0 C576.8,313.3 579.3,313.6 581.8,313.9 C584.3,314.2 586.7,314.4 589.2,314.6 C591.7,314.8 594.3,315.0 596.8,315.1 C599.3,315.2 601.8,315.3 604.3,315.4 C606.8,315.5 609.4,315.5 611.9,315.6 C614.4,315.7 616.9,315.8 619.4,315.8 C621.9,315.9 624.5,315.8 627.0,315.9 C629.5,315.9 632.1,316.1 634.6,316.1 C637.1,316.2 639.6,316.1 642.1,316.2 C644.6,316.2 647.2,316.3 649.7,316.4 C652.2,316.5 654.7,316.6 657.2,316.7 C659.7,316.8 662.2,316.8 664.7,316.9 C667.2,317.0 669.7,317.1 672.2,317.2 C674.7,317.3 677.2,317.4 679.7,317.5 C682.2,317.6 684.7,317.7 687.2,317.8 C689.7,317.9 692.2,318.0 694.7,318.1 C697.2,318.2 699.7,318.3 702.2,318.4 C704.7,318.5 707.2,318.6 709.7,318.7 C712.2,318.8 714.7,319.0 717.2,319.1 C719.7,319.2 722.2,319.3 724.7,319.4 C727.2,319.5 729.7,319.6 732.2,319.7 C734.7,319.8 737.2,319.9 739.7,320.0 C742.2,320.1 744.7,320.2 747.2,320.3 C749.7,320.4 752.2,320.5 754.7,320.6 C757.2,320.7 759.7,320.8 762.2,320.9 C764.7,321.0 767.2,321.1 769.7,321.2 C772.2,321.3 774.8,321.3 777.3,321.4 C779.8,321.5 782.3,321.6 784.8,321.7 C787.3,321.8 789.8,321.9 792.3,322.0 C794.8,322.1 797.3,322.2 799.8,322.3 C802.3,322.4 804.8,322.5 807.3,322.6 C809.8,322.7 812.3,322.7 814.8,322.8 C817.3,322.9 819.8,323.0 822.3,323.1 C824.8,323.2 827.3,323.3 829.8,323.4 C832.3,323.5 834.8,323.6 837.3,323.7 C839.8,323.8 842.4,323.8 844.9,323.9 C847.4,324.0 849.9,324.1 852.4,324.2 C854.9,324.3 857.4,324.4 859.9,324.5 C862.4,324.6 864.9,324.7 867.4,324.8 C869.9,324.9 872.4,324.9 874.9,325.0 C877.4,325.1 879.9,325.2 882.4,325.3 C884.9,325.4 887.4,325.5 889.9,325.6 C892.4,325.7 895.0,325.8 897.5,325.9 C900.0,326.0 902.5,326.1 905.0,326.2 C907.5,326.3 910.0,326.4 912.5,326.5 C915.0,326.6 917.5,326.7 920.0,326.8 C922.5,326.9 925.0,327.0 927.5,327.1 C930.0,327.2 932.5,327.3 935.0,327.4 C937.5,327.5 940.1,327.6 942.6,327.7 C945.1,327.8 947.6,327.9 950.1,328.0 C952.6,328.1 955.1,328.3 957.6,328.4 C960.1,328.5 962.6,328.6 965.1,328.7 C967.6,328.8 970.1,328.9 972.6,329.0 C975.1,329.1 977.6,329.3 980.1,329.4 C982.6,329.5 985.2,329.7 987.7,329.8 C990.2,329.9 992.7,330.0 995.2,330.1 C997.7,330.2 1000.2,330.4 1002.7,330.5 C1005.2,330.6 1007.7,330.8 1010.2,330.9 C1012.7,331.0 1015.2,331.2 1017.7,331.3 C1020.2,331.4 1022.7,331.6 1025.2,331.7 C1027.7,331.8 1030.2,332.0 1032.7,332.1 C1035.2,332.2 1037.7,332.4 1040.2,332.5 C1042.7,332.6 1045.2,332.9 1047.7,333.0 C1050.2,333.1 1052.7,333.2 1055.2,333.4 C1057.7,333.5 1060.2,333.7 1062.7,333.9 C1065.2,334.1 1067.8,334.2 1070.3,334.4 C1072.8,334.6 1075.3,334.7 1077.8,334.9 C1080.3,335.1 1082.8,335.2 1085.3,335.4 C1087.8,335.6 1090.3,335.7 1092.8,335.9 C1095.3,336.1 1097.8,336.2 1100.3,336.4 C1102.8,336.6 1105.3,336.7 1107.8,336.9 C1110.3,337.1 1112.7,337.3 1115.2,337.5 C1117.7,337.7 1120.2,337.8 1122.7,338.0 C1125.2,338.2 1127.7,338.3 1130.2,338.5 C1132.7,338.7 1135.2,338.8 1137.7,339.0 C1140.2,339.2 1142.7,339.4 1145.2,339.5 C1147.7,339.6 1150.2,339.8 1152.7,339.9 C1155.2,340.0 1157.7,340.1 1160.2,340.2 C1162.7,340.3 1165.2,340.4 1167.7,340.5 C1170.2,340.6 1172.7,340.6 1175.2,340.6 C1177.7,340.6 1180.2,340.7 1182.7,340.7 C1185.2,340.7 1187.7,340.7 1190.2,340.7 C1192.7,340.7 1195.3,340.6 1197.8,340.5 C1200.3,340.4 1202.8,340.4 1205.3,340.3 C1207.8,340.2 1210.3,340.2 1212.8,340.1 C1215.3,340.0 1217.8,339.9 1220.3,339.8 C1222.8,339.7 1225.3,339.7 1227.8,339.6 C1230.3,339.5 1232.8,339.4 1235.3,339.4 C1237.8,339.3 1240.4,339.3 1242.9,339.3 C1245.4,339.3 1247.9,339.2 1250.4,339.2 C1252.9,339.2 1255.4,339.3 1257.9,339.3 C1260.4,339.3 1262.9,339.3 1265.4,339.4 C1267.9,339.5 1270.4,339.6 1272.9,339.7 C1275.4,339.8 1277.9,339.8 1280.4,339.9 C1282.9,340.0 1285.5,340.1 1288.0,340.2 C1290.5,340.3 1293.0,340.5 1295.5,340.6 C1298.0,340.7 1300.5,340.8 1303.0,340.9 C1305.5,341.0 1308.0,341.1 1310.5,341.2 C1313.0,341.3 1315.5,341.4 1318.0,341.5 C1320.5,341.6 1323.0,341.7 1325.5,341.8 C1328.0,341.9 1330.5,342.0 1333.0,342.1 C1335.5,342.2 1338.1,342.3 1340.6,342.4 C1343.1,342.5 1345.6,342.6 1348.1,342.7 C1350.6,342.8 1353.1,342.9 1355.6,343.0 C1358.1,343.1 1360.6,343.2 1363.1,343.3 C1365.6,343.4 1368.1,343.5 1370.6,343.6 C1373.1,343.7 1375.6,343.8 1378.1,343.9 C1380.6,344.0 1383.1,344.1 1385.6,344.2 C1388.1,344.3 1390.6,344.4 1393.1,344.5 C1395.6,344.6 1398.2,344.7 1400.7,344.8 C1403.2,344.9 1405.7,345.0 1408.2,345.1 C1410.7,345.2 1413.2,345.3 1415.7,345.4 C1418.2,345.5 1420.7,345.6 1423.2,345.7 C1425.7,345.8 1428.2,345.9 1430.7,346.0 C1433.2,346.1 1435.7,346.2 1438.2,346.3 C1440.7,346.4 1443.2,346.5 1445.7,346.6 C1448.2,346.7 1450.7,346.8 1453.2,346.9 C1455.7,347.0 1458.3,347.1 1460.8,347.2 C1463.3,347.3 1465.8,347.4 1468.3,347.5 C1470.8,347.6 1473.3,347.7 1475.8,347.8 C1478.3,347.9 1480.8,348.0 1483.3,348.1 C1485.8,348.2 1488.3,348.3 1490.8,348.4 C1493.3,348.5 1495.8,348.6 1498.3,348.7 C1500.8,348.8 1503.3,348.9 1505.8,349.0 C1508.3,349.1 1510.8,349.2 1513.3,349.3 C1515.8,349.4 1518.3,349.5 1520.8,349.6 C1523.3,349.7 1525.9,349.8 1528.4,349.9 C1530.9,350.0 1533.4,350.1 1535.9,350.2 C1538.4,350.3 1540.9,350.4 1543.4,350.5 C1545.9,350.6 1548.4,350.7 1550.9,350.8 C1553.4,350.9 1555.9,351.0 1558.4,351.1 C1560.9,351.2 1563.4,351.4 1565.9,351.5 C1568.4,351.6 1570.9,351.7 1573.4,351.8 C1575.9,351.9 1578.4,352.0 1580.9,352.1 C1583.4,352.2 1586.0,352.3 1588.5,352.4 C1591.0,352.5 1593.5,352.6 1596.0,352.7 C1598.5,352.8 1601.0,352.9 1603.5,353.0 C1606.0,353.1 1609.3,353.2 1611.0,353.3 C1612.7,353.4 1613.1,353.4 1613.5,353.4" fill="none" stroke="#008000" stroke-width="6" stroke-linejoin="round" stroke-linecap="round" shape-rendering="crispEdges"/>
<path d="M495.0,99.5 C495.3,100.7 496.2,104.5 496.7,106.9 C497.2,109.4 497.7,111.8 498.2,114.2 C498.7,116.7 499.1,119.1 499.5,121.6 C499.9,124.1 500.4,126.5 500.8,129.0 C501.2,131.5 501.7,133.9 502.1,136.4 C502.5,138.9 502.9,141.3 503.3,143.8 C503.7,146.3 504.0,148.8 504.4,151.2 C504.8,153.6 505.2,156.1 505.6,158.5 C506.0,160.9 506.4,163.4 506.8,165.9 C507.2,168.4 507.6,170.8 508.0,173.3 C508.4,175.8 508.9,178.2 509.4,180.7 C509.9,183.2 510.3,185.6 510.8,188.1 C511.3,190.6 511.8,193.1 512.3,195.6 C512.8,198.1 513.4,200.7 514.0,203.2 C514.6,205.7 515.2,208.3 515.9,210.8 C516.6,213.3 517.4,215.8 518.2,218.2 C519.1,220.6 519.9,223.1 521.0,225.3 C522.1,227.6 523.3,229.7 524.6,231.7 C525.9,233.7 527.4,235.7 529.0,237.4 C530.6,239.2 532.5,240.7 534.4,242.2 C536.3,243.7 538.5,245.0 540.6,246.2 C542.7,247.4 544.9,248.4 547.2,249.4 C549.5,250.4 551.9,251.2 554.3,251.9 C556.7,252.6 559.0,253.3 561.4,253.8 C563.8,254.3 566.2,254.7 568.7,255.1 C571.2,255.5 573.6,255.8 576.1,256.1 C578.6,256.4 581.1,256.6 583.6,256.7 C586.1,256.8 588.6,256.9 591.1,257.0 C593.6,257.1 596.1,257.2 598.6,257.3 C601.1,257.4 603.6,257.4 606.1,257.5 C608.6,257.6 611.2,257.6 613.7,257.6 C616.2,257.7 618.7,257.7 621.2,257.8 C623.7,257.9 626.2,257.9 628.7,258.0 C631.2,258.1 633.8,258.1 636.3,258.2 C638.8,258.3 641.3,258.3 643.8,258.4 C646.3,258.5 648.8,258.5 651.3,258.6 C653.8,258.7 656.4,258.8 658.9,258.8 C661.4,258.9 663.9,258.8 666.4,258.9 C668.9,258.9 671.4,259.0 673.9,259.1 C676.4,259.2 679.0,259.2 681.5,259.3 C684.0,259.4 686.5,259.4 689.0,259.5 C691.5,259.6 694.0,259.6 696.5,259.7 C699.0,259.8 701.6,259.8 704.1,259.8 C706.6,259.9 709.1,259.9 711.6,260.0 C714.1,260.1 716.6,260.1 719.1,260.2 C721.6,260.3 724.1,260.3 726.6,260.4 C729.1,260.5 731.7,260.6 734.2,260.6 C736.7,260.7 739.2,260.6 741.7,260.7 C744.2,260.8 746.7,260.8 749.2,260.9 C751.7,261.0 754.2,261.0 756.7,261.1 C759.2,261.2 761.8,261.2 764.3,261.3 C766.8,261.4 769.3,261.3 771.8,261.4 C774.3,261.4 776.8,261.5 779.3,261.6 C781.8,261.7 784.3,261.7 786.8,261.8 C789.3,261.9 791.9,261.9 794.4,262.0 C796.9,262.1 799.4,262.1 801.9,262.1 C804.4,262.2 806.9,262.2 809.4,262.3 C811.9,262.4 814.4,262.4 816.9,262.5 C819.4,262.6 822.0,262.6 824.5,262.6 C827.0,262.7 829.5,262.7 832.0,262.8 C834.5,262.9 837.0,262.9 839.5,263.0 C842.0,263.1 844.5,263.1 847.0,263.2 C849.5,263.2 852.0,263.2 854.5,263.3 C857.0,263.4 859.6,263.4 862.1,263.5 C864.6,263.6 867.1,263.6 869.6,263.7 C872.1,263.8 874.6,263.8 877.1,263.8 C879.6,263.9 882.1,263.9 884.6,264.0 C887.1,264.1 889.6,264.1 892.1,264.2 C894.6,264.2 897.2,264.2 899.7,264.3 C902.2,264.4 904.7,264.4 907.2,264.5 C909.7,264.6 912.2,264.6 914.7,264.7 C917.2,264.8 919.7,264.8 922.2,264.9 C924.7,264.9 927.2,264.9 929.7,265.0 C932.2,265.1 934.7,265.1 937.2,265.2 C939.7,265.3 942.3,265.3 944.8,265.4 C947.3,265.5 949.8,265.6 952.3,265.6 C954.8,265.7 957.3,265.6 959.8,265.7 C962.3,265.8 964.8,265.8 967.3,265.9 C969.8,266.0 972.3,266.1 974.8,266.1 C977.3,266.2 979.8,266.1 982.3,266.2 C984.8,266.2 987.4,266.3 989.9,266.4 C992.4,266.5 994.9,266.5 997.4,266.6 C999.9,266.7 1002.4,266.8 1004.9,266.8 C1007.4,266.9 1009.9,266.8 1012.4,266.9 C1014.9,266.9 1017.4,267.0 1019.9,267.1 C1022.4,267.2 1024.9,267.2 1027.4,267.3 C1029.9,267.4 1032.4,267.4 1034.9,267.5 C1037.4,267.6 1040.0,267.6 1042.5,267.6 C1045.0,267.7 1047.5,267.7 1050.0,267.8 C1052.5,267.9 1055.0,267.9 1057.5,268.0 C1060.0,268.1 1062.5,268.1 1065.0,268.2 C1067.5,268.3 1070.0,268.3 1072.5,268.4 C1075.0,268.4 1077.5,268.4 1080.0,268.5 C1082.5,268.6 1085.0,268.6 1087.5,268.7 C1090.0,268.8 1092.5,268.8 1095.0,268.9 C1097.5,269.0 1100.1,269.0 1102.6,269.1 C1105.1,269.2 1107.6,269.2 1110.1,269.3 C1112.6,269.4 1115.1,269.4 1117.6,269.5 C1120.1,269.6 1122.6,269.6 1125.1,269.7 C1127.6,269.8 1130.1,269.8 1132.6,269.8 C1135.1,269.9 1137.6,269.9 1140.1,270.0 C1142.6,270.1 1145.1,270.1 1147.6,270.2 C1150.1,270.3 1152.6,270.3 1155.1,270.4 C1157.6,270.5 1160.1,270.5 1162.6,270.6 C1165.1,270.7 1167.7,270.7 1170.2,270.8 C1172.7,270.9 1175.2,270.9 1177.7,271.0 C1180.2,271.1 1182.7,271.1 1185.2,271.2 C1187.7,271.3 1190.2,271.3 1192.7,271.4 C1195.2,271.5 1197.7,271.5 1200.2,271.6 C1202.7,271.7 1205.2,271.7 1207.7,271.8 C1210.2,271.9 1212.7,271.9 1215.2,272.0 C1217.7,272.1 1220.2,272.1 1222.7,272.2 C1225.2,272.3 1227.8,272.3 1230.3,272.4 C1232.8,272.5 1235.3,272.5 1237.8,272.6 C1240.3,272.7 1242.8,272.7 1245.3,272.8 C1247.8,272.9 1250.3,272.9 1252.8,273.0 C1255.3,273.1 1257.8,273.1 1260.3,273.2 C1262.8,273.3 1265.3,273.3 1267.8,273.4 C1270.3,273.5 1272.8,273.5 1275.3,273.6 C1277.8,273.7 1280.3,273.7 1282.8,273.8 C1285.3,273.9 1287.8,273.9 1290.3,274.0 C1292.8,274.1 1295.4,274.2 1297.9,274.3 C1300.4,274.4 1302.9,274.4 1305.4,274.5 C1307.9,274.6 1310.4,274.6 1312.9,274.7 C1315.4,274.8 1317.9,274.8 1320.4,274.9 C1322.9,275.0 1325.4,275.0 1327.9,275.1 C1330.4,275.2 1332.9,275.3 1335.4,275.4 C1337.9,275.5 1340.4,275.5 1342.9,275.6 C1345.4,275.7 1347.9,275.7 1350.4,275.8 C1352.9,275.9 1355.5,275.9 1358.0,276.0 C1360.5,276.1 1363.0,276.2 1365.5,276.3 C1368.0,276.4 1370.5,276.4 1373.0,276.5 C1375.5,276.6 1378.0,276.6 1380.5,276.7 C1383.0,276.8 1385.5,276.9 1388.0,277.0 C1390.5,277.1 1393.0,277.1 1395.5,277.2 C1398.0,277.3 1400.5,277.4 1403.0,277.5 C1405.5,277.6 1408.0,277.6 1410.5,277.7 C1413.0,277.8 1415.6,277.8 1418.1,277.9 C1420.6,278.0 1423.1,278.1 1425.6,278.2 C1428.1,278.3 1430.6,278.3 1433.1,278.4 C1435.6,278.5 1438.1,278.6 1440.6,278.7 C1443.1,278.8 1445.6,278.8 1448.1,278.9 C1450.6,279.0 1453.1,279.1 1455.6,279.2 C1458.1,279.3 1460.6,279.4 1463.1,279.5 C1465.6,279.6 1468.2,279.6 1470.7,279.7 C1473.2,279.8 1475.7,279.9 1478.2,280.0 C1480.7,280.1 1483.2,280.1 1485.7,280.2 C1488.2,280.3 1490.7,280.4 1493.2,280.5 C1495.7,280.6 1498.2,280.7 1500.7,280.8 C1503.2,280.9 1505.7,280.9 1508.2,281.0 C1510.7,281.1 1513.3,281.2 1515.8,281.3 C1518.3,281.4 1520.8,281.5 1523.3,281.6 C1525.8,281.7 1528.3,281.8 1530.8,281.9 C1533.3,282.0 1535.8,282.1 1538.3,282.2 C1540.8,282.3 1543.3,282.3 1545.8,282.4 C1548.3,282.5 1550.9,282.6 1553.4,282.7 C1555.9,282.8 1558.4,282.9 1560.9,283.0 C1563.4,283.1 1565.9,283.2 1568.4,283.3 C1570.9,283.4 1573.4,283.5 1575.9,283.6 C1578.4,283.7 1580.9,283.8 1583.4,283.9 C1585.9,284.0 1588.4,284.1 1590.9,284.2 C1593.4,284.3 1596.0,284.4 1598.5,284.5 C1601.0,284.6 1603.5,284.7 1606.0,284.8 C1608.5,284.9 1612.2,285.1 1613.5,285.1" fill="none" stroke="#0000a0" stroke-width="6" stroke-linejoin="round" stroke-linecap="round" shape-rendering="crispEdges"/>
</g>
<g fill="#000">
<rect x="283" y="34" width="1458" height="6"/>
<rect x="283" y="1100" width="1458" height="5"/>
<rect x="283" y="34" width="5" height="1071"/>
<rect x="1735" y="34" width="5" height="1071"/>
<rect x="288" y="96.3" width="19" height="6"/>
<rect x="288" y="221.7" width="19" height="6"/>
<rect x="288" y="347.1" width="19" height="6"/>
<rect x="288" y="472.5" width="19" height="6"/>
<rect x="288" y="597.9" width="19" height="6"/>
<rect x="288" y="723.3" width="19" height="6"/>
<rect x="288" y="848.7" width="19" height="6"/>
<rect x="288" y="974.1" width="19" height="6"/>
<rect x="288" y="159.0" width="8" height="6"/>
<rect x="288" y="284.4" width="8" height="6"/>
<rect x="288" y="409.8" width="8" height="6"/>
<rect x="288" y="535.2" width="8" height="6"/>
<rect x="288" y="660.6" width="8" height="6"/>
<rect x="288" y="786.0" width="8" height="6"/>
<rect x="288" y="911.4" width="8" height="6"/>
<rect x="288" y="1036.8" width="8" height="6"/>
<rect x="490.4" y="1081" width="5" height="19"/>
<rect x="697.8" y="1081" width="5" height="19"/>
<rect x="905.3" y="1081" width="5" height="19"/>
<rect x="1112.7" y="1081" width="5" height="19"/>
<rect x="1320.1" y="1081" width="5" height="19"/>
<rect x="1527.5" y="1081" width="5" height="19"/>
<rect x="386.7" y="1092" width="5" height="8"/>
<rect x="594.1" y="1092" width="5" height="8"/>
<rect x="801.6" y="1092" width="5" height="8"/>
<rect x="1009.0" y="1092" width="5" height="8"/>
<rect x="1216.4" y="1092" width="5" height="8"/>
<rect x="1423.8" y="1092" width="5" height="8"/>
<rect x="1631.2" y="1092" width="5" height="8"/>
</g>
<g font-size="65.5">
<text transform="translate(262,116.8) scale(0.95,1)" text-anchor="end">0.2</text>
<text transform="translate(262,242.2) scale(0.95,1)" text-anchor="end">0.0</text>
<text transform="translate(262,367.6) scale(0.95,1)" text-anchor="end">−0.2</text>
<text transform="translate(262,493.0) scale(0.95,1)" text-anchor="end">−0.4</text>
<text transform="translate(262,618.4) scale(0.95,1)" text-anchor="end">−0.6</text>
<text transform="translate(262,743.8) scale(0.95,1)" text-anchor="end">−0.8</text>
<text transform="translate(262,869.2) scale(0.95,1)" text-anchor="end">−1.0</text>
<text transform="translate(262,994.6) scale(0.95,1)" text-anchor="end">−1.2</text>
<text transform="translate(262,1120.0) scale(0.95,1)" text-anchor="end">−1.4</text>
<text transform="translate(286.0,1175) scale(0.95,1)" text-anchor="middle">−100</text>
<text transform="translate(493.4,1175) scale(0.95,1)" text-anchor="middle">−80</text>
<text transform="translate(700.8,1175) scale(0.95,1)" text-anchor="middle">−60</text>
<text transform="translate(908.3,1175) scale(0.95,1)" text-anchor="middle">−40</text>
<text transform="translate(1115.7,1175) scale(0.95,1)" text-anchor="middle">−20</text>
<text transform="translate(1323.1,1175) scale(0.95,1)" text-anchor="middle">0</text>
<text transform="translate(1530.5,1175) scale(0.95,1)" text-anchor="middle">20</text>
<text transform="translate(1737.9,1175) scale(0.95,1)" text-anchor="middle">40</text>
<line x1="441" y1="640.8" x2="578" y2="640.8" stroke="#000000" stroke-width="6" stroke-linecap="round"/>
<text transform="translate(614,661.0) scale(0.95,1)">BR100</text>
<line x1="441" y1="717.2" x2="578" y2="717.2" stroke="#ff0000" stroke-width="6" stroke-linecap="round"/>
<text transform="translate(614,737.5) scale(0.95,1)">BR80</text>
<line x1="441" y1="793.7" x2="578" y2="793.7" stroke="#0000ff" stroke-width="6" stroke-linecap="round"/>
<text transform="translate(614,814.0) scale(0.95,1)">BR60</text>
<line x1="441" y1="870.1" x2="578" y2="870.1" stroke="#ff00ff" stroke-width="6" stroke-linecap="round"/>
<text transform="translate(614,890.5) scale(0.95,1)">BR40</text>
<line x1="441" y1="946.6" x2="578" y2="946.6" stroke="#008000" stroke-width="6" stroke-linecap="round"/>
<text transform="translate(614,967.0) scale(0.95,1)">BR20</text>
<line x1="441" y1="1023.0" x2="578" y2="1023.0" stroke="#0000a0" stroke-width="6" stroke-linecap="round"/>
<text transform="translate(614,1043.5) scale(0.95,1)">BIR</text>
</g>
<text x="649.7" y="1284.3" font-size="72.6" textLength="414" lengthAdjust="spacingAndGlyphs">Temperature</text>
<text y="1284.3" font-size="72.6"><tspan x="1182.7">(</tspan><tspan x="1207" y="1290.9" font-size="80">°</tspan><tspan x="1236.3" y="1284.3">C </tspan><tspan x="1311.4">)</tspan></text>
<text transform="translate(80.2,903.5) rotate(-90)" font-size="72.6">Heat flow</text>
<text transform="translate(80.2,537.5) rotate(-90)" font-size="72.6" textLength="180" lengthAdjust="spacingAndGlyphs">(W/g)</text>
</svg>
</body></html>
